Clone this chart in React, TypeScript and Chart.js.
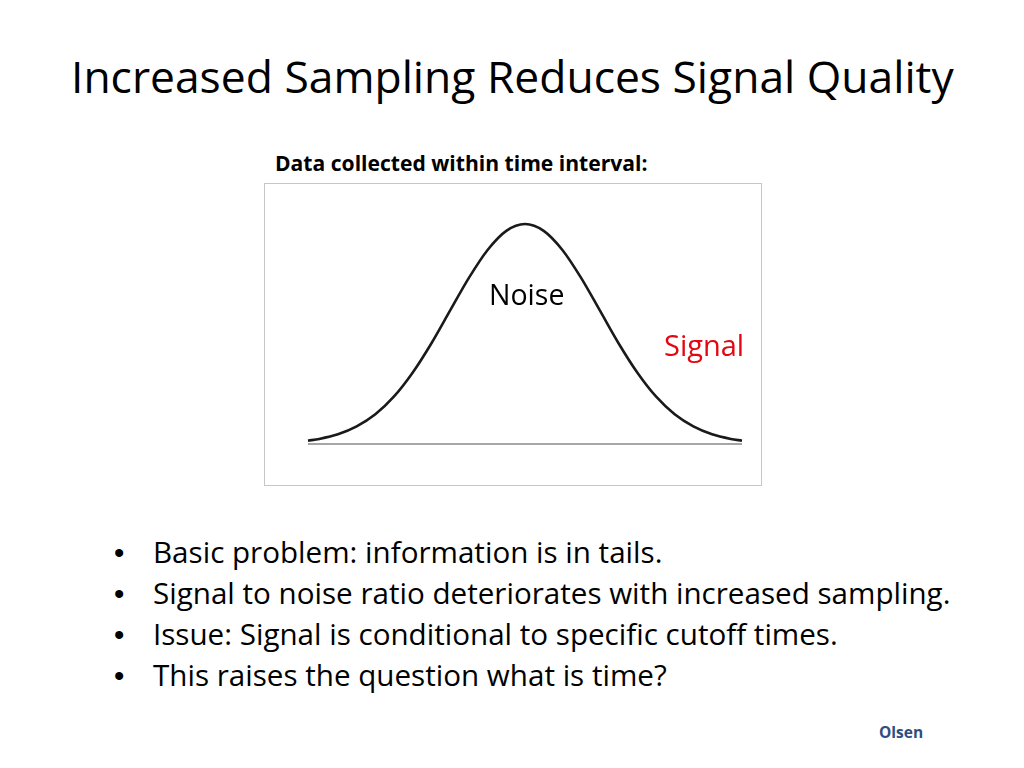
import React, { useEffect, useRef } from "react";
import { Chart, registerables } from "chart.js";

Chart.register(...registerables);

const TITLE = "Increased Sampling Reduces Signal Quality";
const SUBTITLE = "Data collected within time interval:";
const NOISE_LABEL = "Noise";
const SIGNAL_LABEL = "Signal";
const BULLETS = [
  "Basic problem: information is in tails.",
  "Signal to noise ratio deteriorates with increased sampling.",
  "Issue: Signal is conditional to specific cutoff times.",
  "This raises the question what is time?",
];
const AUTHOR = "Olsen";

// bell curve (x in sigma units, height relative to peak)
const curveX = [-2.9, -2.75, -2.5, -2.25, -2, -1.75, -1.5, -1.25, -1, -0.75, -0.5, -0.25, 0, 0.25, 0.5, 0.75, 1, 1.25, 1.5, 1.75, 2, 2.25, 2.5, 2.75, 2.9];
const curveY = [0.015, 0.023, 0.044, 0.08, 0.135, 0.216, 0.325, 0.458, 0.607, 0.755, 0.882, 0.969, 1.0, 0.969, 0.882, 0.755, 0.607, 0.458, 0.325, 0.216, 0.135, 0.08, 0.044, 0.023, 0.015];
const baselineX = [-2.9, 2.9];
const baselineY = [0, 0];

const FONT = "'Open Sans', Lato, sans-serif";

function BellChart() {
  const ref = useRef<HTMLCanvasElement | null>(null);
  useEffect(() => {
    if (!ref.current) return;
    const chart = new Chart(ref.current, {
      type: "line",
      data: {
        datasets: [
          {
            data: baselineX.map((x, i) => ({ x, y: baselineY[i] })),
            borderColor: "#a6a6a6",
            borderWidth: 2,
            pointRadius: 0,
            clip: false as any,
          },
          {
            data: curveX.map((x, i) => ({ x, y: curveY[i] })),
            borderColor: "#1a1a1a",
            borderWidth: 2.6,
            pointRadius: 0,
            cubicInterpolationMode: "monotone",
            clip: false as any,
          },
        ],
      },
      options: {
        animation: false,
        responsive: false,
        maintainAspectRatio: false,
        layout: { padding: { left: 43, right: 19, top: 40, bottom: 41 } },
        plugins: { legend: { display: false }, tooltip: { enabled: false } },
        scales: {
          x: { type: "linear", min: -2.9, max: 2.9, display: false },
          y: { type: "linear", min: 0, max: 1, display: false },
        },
      },
    });
    return () => chart.destroy();
  }, []);
  return <canvas ref={ref} width={496} height={301} style={{ display: "block", width: 496, height: 301 }} />;
}

export default function App() {
  const abs = (top: number, left: number, size: number, extra: React.CSSProperties = {}): React.CSSProperties => ({
    position: "absolute",
    top,
    left,
    fontSize: size,
    lineHeight: `${size}px`,
    fontFamily: FONT,
    whiteSpace: "nowrap",
    color: "#000",
    fontVariantLigatures: "none",
    ...extra,
  });
  const bulletTops = [536.7, 577.7, 618.7, 659.7];
  const dotTops = [537.9, 578.9, 619.9, 660.9];
  return (
    <div style={{ position: "absolute", top: 0, left: 0, width: 1024, height: 768, background: "#fff", overflow: "hidden" }}>
      <div style={abs(53.6, 71, 44.4)}>{TITLE}</div>
      <div style={abs(152.3, 275, 21.1, { fontWeight: 700 })}>{SUBTITLE}</div>
      <div style={{ position: "absolute", left: 264, top: 183, width: 496, height: 301, border: "1px solid #c6c6c6" }}>
        <BellChart />
      </div>
      <div style={abs(279.7, 489, 28.5)}>{NOISE_LABEL}</div>
      <div style={abs(330.25, 664, 29, { color: "#e30613" })}>{SIGNAL_LABEL}</div>
      {BULLETS.map((b, i) => (
        <React.Fragment key={i}>
          <div style={abs(dotTops[i], 114, 29.6, { fontFamily: "'Liberation Sans', Arial, sans-serif" })}>•</div>
          <div style={abs(bulletTops[i], 153, 29.6)}>{b}</div>
        </React.Fragment>
      ))}
      <div style={abs(725.2, 879, 15.5, { fontWeight: 700, color: "#2f4d7e" })}>{AUTHOR}</div>
    </div>
  );
}
